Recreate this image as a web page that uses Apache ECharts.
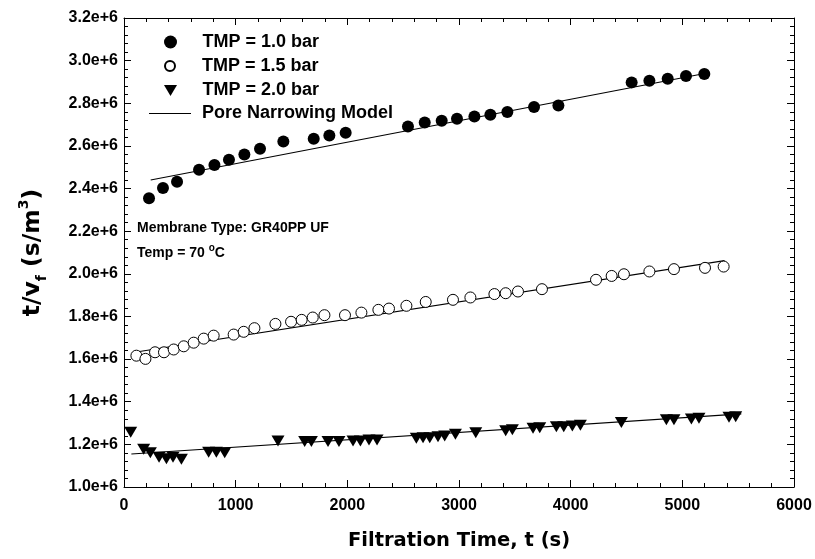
<!DOCTYPE html>
<html><head><meta charset="utf-8">
<script src="https://cdn.jsdelivr.net/npm/echarts@6/dist/echarts.min.js"></script>
<style>html,body{margin:0;padding:0;background:#fff}#c{width:815px;height:559px}</style>
</head><body><div id="c"></div>
<script>
// ---- data ----
const seriesNames = ['TMP = 1.0 bar', 'TMP = 1.5 bar', 'TMP = 2.0 bar', 'Pore Narrowing Model'];

const tmp10Time = [224,349,475,672,810,940,1078,1218,1427,1699,1839,1985,2543,2693,2845,2982,3138,3281,3433,3672,3890,4546,4705,4869,5033,5197];
const tmp10Value = [2.355e6,2.403e6,2.432e6,2.488e6,2.510e6,2.535e6,2.560e6,2.587e6,2.621e6,2.634e6,2.649e6,2.662e6,2.691e6,2.710e6,2.718e6,2.727e6,2.738e6,2.746e6,2.759e6,2.782e6,2.790e6,2.898e6,2.906e6,2.915e6,2.928e6,2.937e6];

const tmp15Time = [111,192,278,358,445,535,624,714,803,982,1072,1168,1356,1496,1591,1690,1795,1979,2126,2278,2373,2529,2702,2946,3102,3317,3418,3528,3743,4227,4367,4477,4705,4925,5203,5370];
const tmp15Value = [1.616e6,1.601e6,1.632e6,1.632e6,1.645e6,1.660e6,1.677e6,1.696e6,1.710e6,1.715e6,1.728e6,1.745e6,1.765e6,1.775e6,1.784e6,1.795e6,1.806e6,1.806e6,1.818e6,1.831e6,1.837e6,1.850e6,1.868e6,1.878e6,1.889e6,1.905e6,1.909e6,1.917e6,1.928e6,1.972e6,1.990e6,1.998e6,2.011e6,2.022e6,2.028e6,2.034e6];

const tmp20Time = [60,176,236,314,380,439,514,758,827,902,1379,1618,1678,1827,1925,2051,2117,2194,2266,2618,2678,2738,2812,2872,2968,3150,3418,3478,3663,3723,3872,3938,4015,4087,4454,4857,4925,5081,5149,5418,5478];
const tmp20Value = [1.257e6,1.177e6,1.161e6,1.139e6,1.133e6,1.139e6,1.130e6,1.163e6,1.163e6,1.161e6,1.216e6,1.213e6,1.213e6,1.213e6,1.213e6,1.216e6,1.216e6,1.221e6,1.221e6,1.229e6,1.231e6,1.231e6,1.236e6,1.239e6,1.247e6,1.255e6,1.264e6,1.268e6,1.276e6,1.278e6,1.283e6,1.283e6,1.286e6,1.290e6,1.302e6,1.315e6,1.315e6,1.319e6,1.322e6,1.327e6,1.329e6];

const model10Time = [239, 5235];
const model10Value = [2.440e6, 2.943e6];
const model15Time = [96, 5378];
const model15Value = [1.632e6, 2.062e6];
const model20Time = [66, 5528];
const model20Value = [1.155e6, 1.343e6];

const xMin = 0, xMax = 6000, xStep = 1000;
const yMin = 1.0e6, yMax = 3.2e6, yStep = 0.2e6;
const xTickLabels = ['0','1000','2000','3000','4000','5000','6000'];
const yTickLabels = ['1.0e+6','1.2e+6','1.4e+6','1.6e+6','1.8e+6','2.0e+6','2.2e+6','2.4e+6','2.6e+6','2.8e+6','3.0e+6','3.2e+6'];

const annotationLine1 = 'Membrane Type: GR40PP UF';
const annotationLine2 = 'Temp = 70 {sup|o}C';
const xTitle = 'Filtration Time, t (s)';
const yTitle = 't/v{sub|f} (s/m{sup|3})';

// ---- helpers ----
const FONT = '"Liberation Sans", Arial, Helvetica, sans-serif';
const TFONT = '"DejaVu Sans", "Liberation Sans", sans-serif';
const zip = (a, b) => a.map((v, i) => [v, b[i]]);

function frameAxis(pos, isX, showLabels) {
  return {
    type: 'value',
    position: pos,
    min: isX ? xMin : yMin,
    max: isX ? xMax : yMax,
    interval: isX ? xStep : yStep,
    axisLine: { show: true, onZero: false, lineStyle: { color: '#000', width: 1 } },
    axisTick: { show: true, inside: true, length: 7, lineStyle: { color: '#000', width: 1 } },
    minorTick: { show: true, splitNumber: 5, length: 4, lineStyle: { color: '#000', width: 1 } },
    splitLine: { show: false },
    minorSplitLine: { show: false },
    axisLabel: {
      show: showLabels,
      color: '#000', fontSize: 16, fontWeight: 'bold', fontFamily: FONT,
      margin: isX ? 11 : 6,
      formatter: isX
        ? (v) => xTickLabels[Math.round((v - xMin) / xStep)]
        : (v) => yTickLabels[Math.round((v - yMin) / yStep)]
    }
  };
}

const xBottom = Object.assign(frameAxis('bottom', true, true), {
  name: xTitle, nameLocation: 'middle', nameGap: 44,
  nameTextStyle: { color: '#000', fontSize: 19.5, fontWeight: 'bold', fontFamily: TFONT }
});
const xTop = frameAxis('top', true, false);
const yLeft = Object.assign(frameAxis('left', false, true), {
  name: yTitle, nameLocation: 'middle', nameGap: 75, nameRotate: 90,
  nameTextStyle: {
    color: '#000', fontSize: 23.5, fontWeight: 'bold', fontFamily: TFONT, lineHeight: 32,
    rich: {
      sub: { fontSize: 14, fontWeight: 'bold', fontFamily: TFONT, color: '#000', lineHeight: 14, verticalAlign: 'bottom' },
      sup: { fontSize: 14, fontWeight: 'bold', fontFamily: TFONT, color: '#000', lineHeight: 14, verticalAlign: 'top' }
    }
  }
});
const yRight = frameAxis('right', false, false);

function legendRow(item, left, top, itemHeight, extra) {
  return Object.assign({
    data: [item],
    orient: 'vertical',
    left: left, top: top, padding: 0,
    itemWidth: 42, itemHeight: itemHeight,
    selectedMode: false,
    textStyle: { color: '#000', fontSize: 18, fontWeight: 'bold', fontFamily: FONT, lineHeight: 18, padding: [0, 0, 0, 6] }
  }, extra || {});
}

const option = {
  animation: false,
  backgroundColor: '#fff',
  grid: { left: 124, right: 21, top: 18, bottom: 72, containLabel: false },
  xAxis: [xBottom, xTop],
  yAxis: [yLeft, yRight],
  legend: [
    legendRow({ name: seriesNames[0], icon: 'circle' }, 164, 33, 13),
    legendRow({ name: seriesNames[1], icon: 'circle' }, 164, 57, 10),
    legendRow({ name: seriesNames[2], icon: 'path://M0,0L13,0L6.5,11Z' }, 164, 81.5, 11),
    legendRow({ name: seriesNames[3], icon: 'rect' }, 149, 104.5, 1.2, { symbolKeepAspect: false })
  ],
  graphic: [
    { type: 'text', left: 137, top: 221,
      style: { text: annotationLine1, fill: '#000', fontSize: 14, fontWeight: 'bold', fontFamily: FONT } },
    { type: 'text', left: 137, top: 243,
      style: { text: annotationLine2, fill: '#000', fontSize: 14, fontWeight: 'bold', fontFamily: FONT, lineHeight: 20,
        rich: { sup: { fontSize: 10, fontWeight: 'bold', fontFamily: FONT, fill: '#000', lineHeight: 10, verticalAlign: 'top' } } } }
  ],
  series: [
    { name: seriesNames[3], type: 'line', xAxisIndex: 0, yAxisIndex: 0, data: zip(model10Time, model10Value),
      symbol: 'none', showSymbol: false, lineStyle: { color: '#000', width: 1.1 }, itemStyle: { color: '#000' }, z: 1, silent: true },
    { name: seriesNames[3], type: 'line', xAxisIndex: 0, yAxisIndex: 0, data: zip(model15Time, model15Value),
      symbol: 'none', showSymbol: false, lineStyle: { color: '#000', width: 1.1 }, itemStyle: { color: '#000' }, z: 1, silent: true },
    { name: seriesNames[3], type: 'line', xAxisIndex: 0, yAxisIndex: 0, data: zip(model20Time, model20Value),
      symbol: 'none', showSymbol: false, lineStyle: { color: '#000', width: 1.1 }, itemStyle: { color: '#000' }, z: 1, silent: true },
    { name: seriesNames[0], type: 'scatter', xAxisIndex: 0, yAxisIndex: 0, data: zip(tmp10Time, tmp10Value),
      symbol: 'circle', symbolSize: 12, itemStyle: { color: '#000', opacity: 1 }, z: 3 },
    { name: seriesNames[1], type: 'scatter', xAxisIndex: 0, yAxisIndex: 0, data: zip(tmp15Time, tmp15Value),
      symbol: 'circle', symbolSize: 11, itemStyle: { color: '#fff', borderColor: '#000', borderWidth: 1, opacity: 1 }, z: 3 },
    { name: seriesNames[2], type: 'scatter', xAxisIndex: 0, yAxisIndex: 0, data: zip(tmp20Time, tmp20Value),
      symbol: 'triangle', symbolRotate: 180, symbolSize: [13, 11], itemStyle: { color: '#000', opacity: 1 }, z: 3 }
  ]
};

const chart = echarts.init(document.getElementById('c'), null, { renderer: 'canvas' });
chart.setOption(option);
</script>
</body></html>
